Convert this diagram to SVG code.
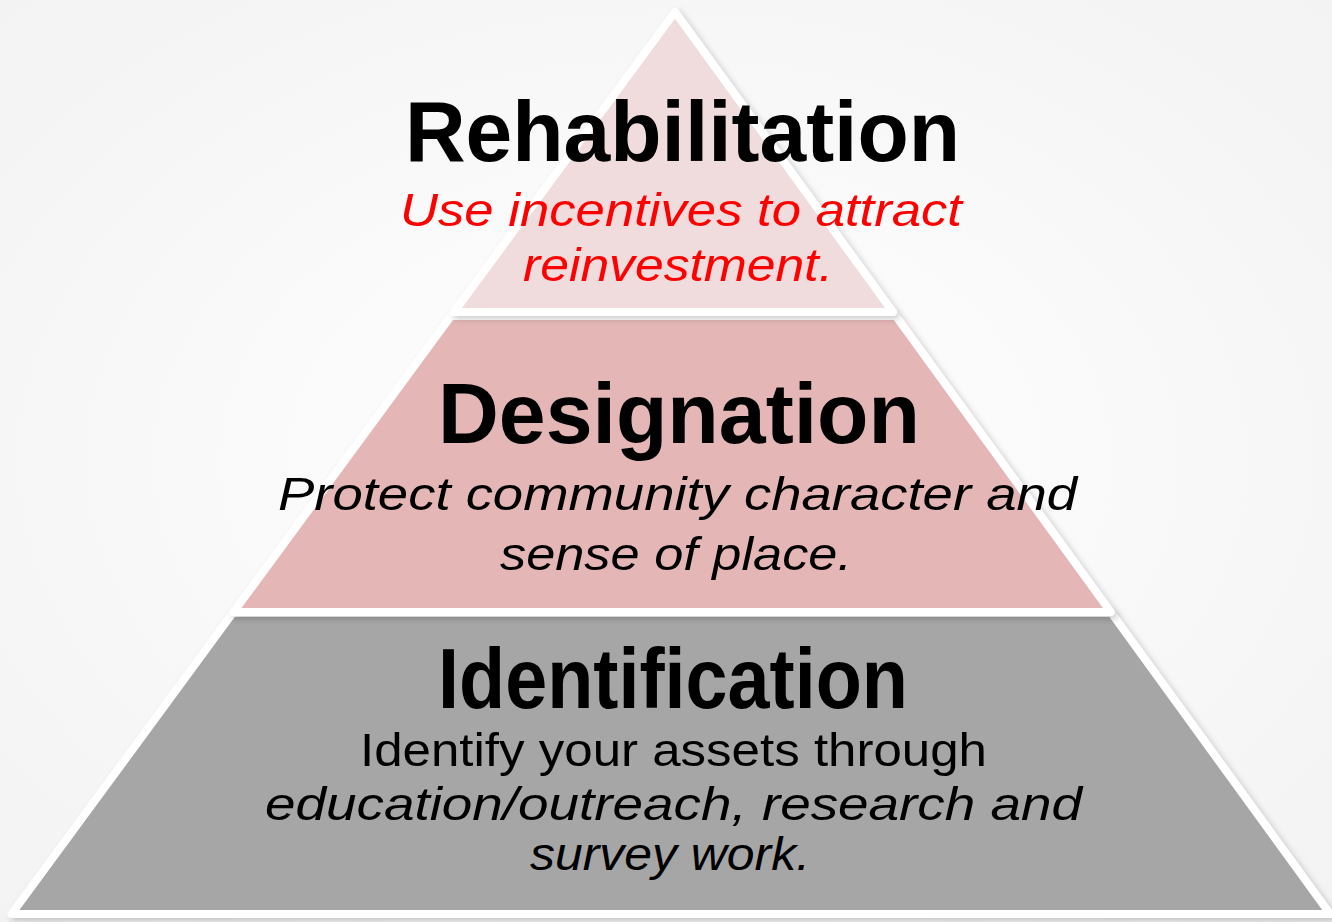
<svg xmlns="http://www.w3.org/2000/svg" width="1332" height="922" viewBox="0 0 1332 922">
  <defs>
    <radialGradient id="bg" cx="50%" cy="50%" r="75%">
      <stop offset="0" stop-color="#ffffff"/>
      <stop offset="1" stop-color="#f3f2f3"/>
    </radialGradient>
    <filter id="shadow" x="-10%" y="-10%" width="120%" height="120%">
      <feDropShadow dx="3" dy="3" stdDeviation="3" flood-color="#000" flood-opacity="0.2"/>
    </filter>
  </defs>
  <style>
    .tier { stroke: #ffffff; stroke-width: 8; stroke-linejoin: round; filter: url(#shadow); }
    .head { font-family: "Liberation Sans", Arial, sans-serif; font-weight: bold; font-size: 86px; fill: #000; text-anchor: middle; }
    .body { font-family: "Liberation Sans", Arial, sans-serif; font-size: 46px; fill: #000; text-anchor: middle; }
    .it { font-style: italic; }
    .red { fill: #ff0000; }
  </style>
  <rect x="0" y="0" width="1332" height="922" fill="url(#bg)"/>

  <g id="tier-identification">
    <polygon class="tier" fill="#a6a6a6" points="232.8,613 1111.4,613 1330,914 11.6,914"/>
    <text class="head" x="673" y="708" font-size="80" textLength="470" lengthAdjust="spacingAndGlyphs">Identification</text>
    <text class="body" x="673.5" y="766" textLength="627" lengthAdjust="spacingAndGlyphs">Identify your assets through</text>
    <text class="body it" x="673.5" y="820" textLength="817" lengthAdjust="spacingAndGlyphs">education/outreach, research and</text>
    <text class="body it" x="670" y="870" textLength="280" lengthAdjust="spacingAndGlyphs">survey work.</text>
  </g>

  <g id="tier-designation">
    <polygon class="tier" fill="#e4b6b6" points="451.1,316 895.8,316 1110.7,612 233.6,612"/>
    <text class="head" x="679" y="443" textLength="482" lengthAdjust="spacingAndGlyphs">Designation</text>
    <text class="body it" x="677.5" y="510" textLength="799" lengthAdjust="spacingAndGlyphs">Protect community character and</text>
    <text class="body it" x="676" y="570" textLength="352" lengthAdjust="spacingAndGlyphs">sense of place.</text>
  </g>

  <g id="tier-rehabilitation">
    <polygon class="tier" fill="#f0dcdc" points="675,12 892.9,312 454.1,312"/>
    <text class="head" x="682.5" y="161" textLength="555" lengthAdjust="spacingAndGlyphs">Rehabilitation</text>
    <text class="body it red" x="681" y="226" textLength="562" lengthAdjust="spacingAndGlyphs">Use incentives to attract</text>
    <text class="body it red" x="678" y="281" textLength="310" lengthAdjust="spacingAndGlyphs">reinvestment.</text>
  </g>

  <g id="connectors"></g>
</svg>
